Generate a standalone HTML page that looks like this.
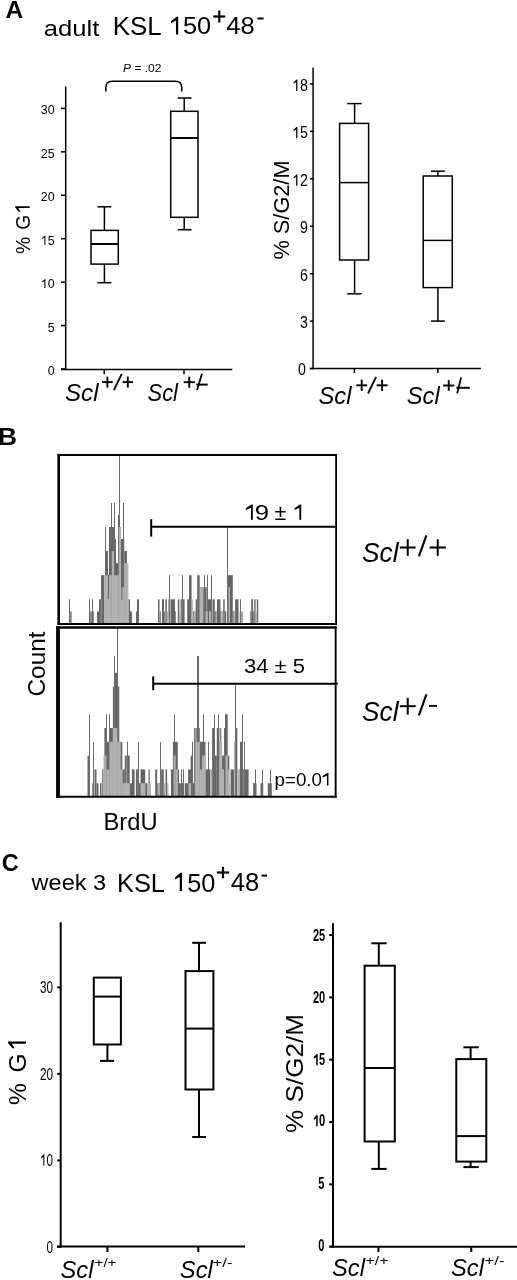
<!DOCTYPE html>
<html><head><meta charset="utf-8"><title>Figure</title>
<style>
html,body{margin:0;padding:0;background:#fff;}
body{width:517px;height:1280px;overflow:hidden;}
svg{display:block;filter:grayscale(1);}
text{font-family:"Liberation Sans", sans-serif;fill:#000;}
</style></head>
<body>
<svg width="517" height="1280" viewBox="0 0 517 1280">
<rect width="517" height="1280" fill="#fff"/>
<text x="5.5" y="17.7" font-size="24.5" font-weight="bold" font-style="normal" text-anchor="start" >A</text>
<text x="43.8" y="35.8" font-size="22.5" font-weight="normal" font-style="normal" text-anchor="start" textLength="55.5" lengthAdjust="spacingAndGlyphs" >adult</text>
<text x="112.8" y="34.8" font-size="25" font-weight="normal" font-style="normal" text-anchor="start" textLength="49" lengthAdjust="spacingAndGlyphs" >KSL</text>
<path d="M0.373,0 L0.285,0 L0.285,0.560 L0.085,0.452 L0.085,0.537 L0.312,0.716 L0.373,0.716 Z" fill="#000" transform=" translate(168.85,34.60) scale(25.000,-25.000)"/>
<text x="183" y="34.3" font-size="24.5" font-weight="normal" font-style="normal" text-anchor="start" textLength="28.2" lengthAdjust="spacingAndGlyphs" >50</text>
<line x1="213.3" y1="16.5" x2="225.3" y2="16.5" stroke="#000" stroke-width="2.2" stroke-linecap="butt"/>
<line x1="219.3" y1="10.5" x2="219.3" y2="22.5" stroke="#000" stroke-width="2.2" stroke-linecap="butt"/>
<text x="226.3" y="34.3" font-size="24.5" font-weight="normal" font-style="normal" text-anchor="start" textLength="28.5" lengthAdjust="spacingAndGlyphs" >48</text>
<rect x="257.5" y="17.5" width="6.1" height="2" fill="#000"/>
<line x1="65.7" y1="86.4" x2="65.7" y2="370.25" stroke="#000" stroke-width="1.5" stroke-linecap="butt"/>
<line x1="61" y1="369.5" x2="232.3" y2="369.5" stroke="#000" stroke-width="1.5" stroke-linecap="butt"/>
<line x1="61" y1="108.4" x2="65.7" y2="108.4" stroke="#000" stroke-width="1.5" stroke-linecap="butt"/>
<text x="40.8112" y="114.4" font-size="12.4" font-weight="normal" font-style="normal" text-anchor="start" >3</text>
<text x="47.705600000000004" y="114.4" font-size="12.4" font-weight="normal" font-style="normal" text-anchor="start" >0</text>
<line x1="61" y1="151.83" x2="65.7" y2="151.83" stroke="#000" stroke-width="1.5" stroke-linecap="butt"/>
<text x="40.8112" y="157.83" font-size="12.4" font-weight="normal" font-style="normal" text-anchor="start" >2</text>
<text x="47.705600000000004" y="157.83" font-size="12.4" font-weight="normal" font-style="normal" text-anchor="start" >5</text>
<line x1="61" y1="195.26" x2="65.7" y2="195.26" stroke="#000" stroke-width="1.5" stroke-linecap="butt"/>
<text x="40.8112" y="201.26" font-size="12.4" font-weight="normal" font-style="normal" text-anchor="start" >2</text>
<text x="47.705600000000004" y="201.26" font-size="12.4" font-weight="normal" font-style="normal" text-anchor="start" >0</text>
<line x1="61" y1="238.69" x2="65.7" y2="238.69" stroke="#000" stroke-width="1.5" stroke-linecap="butt"/>
<path d="M0.373,0 L0.285,0 L0.285,0.560 L0.105,0.452 L0.105,0.537 L0.312,0.716 L0.373,0.716 Z" fill="#000" transform=" translate(40.81,244.69) scale(12.400,-12.400)"/>
<text x="47.705600000000004" y="244.69" font-size="12.4" font-weight="normal" font-style="normal" text-anchor="start" >5</text>
<line x1="61" y1="282.12" x2="65.7" y2="282.12" stroke="#000" stroke-width="1.5" stroke-linecap="butt"/>
<path d="M0.373,0 L0.285,0 L0.285,0.560 L0.105,0.452 L0.105,0.537 L0.312,0.716 L0.373,0.716 Z" fill="#000" transform=" translate(40.81,288.12) scale(12.400,-12.400)"/>
<text x="47.705600000000004" y="288.12" font-size="12.4" font-weight="normal" font-style="normal" text-anchor="start" >0</text>
<line x1="61" y1="325.55" x2="65.7" y2="325.55" stroke="#000" stroke-width="1.5" stroke-linecap="butt"/>
<text x="47.705600000000004" y="331.55" font-size="12.4" font-weight="normal" font-style="normal" text-anchor="start" >5</text>
<line x1="61" y1="368.98" x2="65.7" y2="368.98" stroke="#000" stroke-width="1.5" stroke-linecap="butt"/>
<text x="47.705600000000004" y="374.98" font-size="12.4" font-weight="normal" font-style="normal" text-anchor="start" >0</text>
<line x1="104.2" y1="369.5" x2="104.2" y2="374.2" stroke="#000" stroke-width="1.5" stroke-linecap="butt"/>
<line x1="184" y1="369.5" x2="184" y2="374.2" stroke="#000" stroke-width="1.5" stroke-linecap="butt"/>
<line x1="104.4" y1="206.8" x2="104.4" y2="230.4" stroke="#000" stroke-width="1.5" stroke-linecap="butt"/>
<line x1="97.4" y1="206.8" x2="111.3" y2="206.8" stroke="#000" stroke-width="1.5" stroke-linecap="butt"/>
<line x1="104.4" y1="264.1" x2="104.4" y2="282.7" stroke="#000" stroke-width="1.5" stroke-linecap="butt"/>
<line x1="97.4" y1="282.7" x2="111.3" y2="282.7" stroke="#000" stroke-width="1.5" stroke-linecap="butt"/>
<rect x="91" y="230.4" width="27.299999999999997" height="33.70000000000002" fill="none" stroke="#000" stroke-width="1.5"/>
<line x1="91" y1="244" x2="118.3" y2="244" stroke="#000" stroke-width="2" stroke-linecap="butt"/>
<line x1="184.2" y1="98" x2="184.2" y2="111.3" stroke="#000" stroke-width="1.5" stroke-linecap="butt"/>
<line x1="177.7" y1="98" x2="191.5" y2="98" stroke="#000" stroke-width="1.5" stroke-linecap="butt"/>
<line x1="184.2" y1="217.3" x2="184.2" y2="229.7" stroke="#000" stroke-width="1.5" stroke-linecap="butt"/>
<line x1="177.7" y1="229.7" x2="191.5" y2="229.7" stroke="#000" stroke-width="1.5" stroke-linecap="butt"/>
<rect x="170.7" y="111.3" width="27.30000000000001" height="106.00000000000001" fill="none" stroke="#000" stroke-width="1.5"/>
<line x1="170.7" y1="138" x2="198" y2="138" stroke="#000" stroke-width="2" stroke-linecap="butt"/>
<path d="M105.8,91.6 L105.8,87.5 Q105.8,81.3 112,81.3 L175.5,81.3 Q181.7,81.3 181.7,87.5 L181.7,91.6" fill="none" stroke="#000" stroke-width="1.6"/>
<text x="123" y="72" font-size="11.5" font-weight="normal" font-style="normal" text-anchor="start" textLength="38.5" lengthAdjust="spacingAndGlyphs" ><tspan font-style="italic">P</tspan> = .02</text>
<text transform="translate(29.8,253.9) rotate(-90) scale(0.92,1)" font-size="21" font-weight="normal" font-style="normal" text-anchor="start" >%</text>
<text transform="translate(29.8,229.7) rotate(-90) scale(0.92,1)" font-size="21" font-weight="normal" font-style="normal" text-anchor="start" >G</text>
<path d="M0.373,0 L0.285,0 L0.285,0.560 L0.105,0.452 L0.105,0.537 L0.312,0.716 L0.373,0.716 Z" fill="#000" transform="translate(29.7,213.4) rotate(-90) translate(-0.50,0.00) scale(20.300,-20.300)"/>
<text x="65" y="400.7" font-size="23" font-weight="normal" font-style="italic" text-anchor="start" textLength="33.5" lengthAdjust="spacingAndGlyphs" >Scl</text>
<line x1="102.05000000000001" y1="382.1" x2="112.75" y2="382.1" stroke="#000" stroke-width="1.9" stroke-linecap="butt"/>
<line x1="107.4" y1="376.6" x2="107.4" y2="387.6" stroke="#000" stroke-width="1.9" stroke-linecap="butt"/>
<line x1="113.9" y1="390" x2="121.8" y2="373.8" stroke="#000" stroke-width="1.8" stroke-linecap="butt"/>
<line x1="122.64999999999999" y1="382.1" x2="132.95" y2="382.1" stroke="#000" stroke-width="1.9" stroke-linecap="butt"/>
<line x1="127.8" y1="376.6" x2="127.8" y2="387.6" stroke="#000" stroke-width="1.9" stroke-linecap="butt"/>
<text x="147.5" y="400.8" font-size="23" font-weight="normal" font-style="italic" text-anchor="start" textLength="30.5" lengthAdjust="spacingAndGlyphs" >Scl</text>
<line x1="183.7" y1="382.2" x2="194.8" y2="382.2" stroke="#000" stroke-width="1.9" stroke-linecap="butt"/>
<line x1="189.25" y1="376.65" x2="189.25" y2="387.75" stroke="#000" stroke-width="1.9" stroke-linecap="butt"/>
<line x1="197" y1="390" x2="202" y2="373.8" stroke="#000" stroke-width="1.8" stroke-linecap="butt"/>
<line x1="196.3" y1="384.6" x2="207.7" y2="384.6" stroke="#000" stroke-width="2" stroke-linecap="butt"/>
<line x1="313.1" y1="67.4" x2="313.1" y2="369.35" stroke="#000" stroke-width="1.5" stroke-linecap="butt"/>
<line x1="309.7" y1="368.6" x2="480.9" y2="368.6" stroke="#000" stroke-width="1.5" stroke-linecap="butt"/>
<line x1="310" y1="84.0" x2="313.1" y2="84.0" stroke="#000" stroke-width="1.5" stroke-linecap="butt"/>
<path d="M0.373,0 L0.285,0 L0.285,0.560 L0.105,0.452 L0.105,0.537 L0.312,0.716 L0.373,0.716 Z" fill="#000" transform=" translate(292.09,90.90) scale(14.220,-15.800)"/>
<text transform="translate(299.99368,90.9) scale(0.9,1)" font-size="15.8" font-weight="normal" font-style="normal" text-anchor="start" >8</text>
<line x1="310" y1="131.43" x2="313.1" y2="131.43" stroke="#000" stroke-width="1.5" stroke-linecap="butt"/>
<path d="M0.373,0 L0.285,0 L0.285,0.560 L0.105,0.452 L0.105,0.537 L0.312,0.716 L0.373,0.716 Z" fill="#000" transform=" translate(292.09,138.33) scale(14.220,-15.800)"/>
<text transform="translate(299.99368,138.33) scale(0.9,1)" font-size="15.8" font-weight="normal" font-style="normal" text-anchor="start" >5</text>
<line x1="310" y1="178.86" x2="313.1" y2="178.86" stroke="#000" stroke-width="1.5" stroke-linecap="butt"/>
<path d="M0.373,0 L0.285,0 L0.285,0.560 L0.105,0.452 L0.105,0.537 L0.312,0.716 L0.373,0.716 Z" fill="#000" transform=" translate(292.09,185.76) scale(14.220,-15.800)"/>
<text transform="translate(299.99368,185.76000000000002) scale(0.9,1)" font-size="15.8" font-weight="normal" font-style="normal" text-anchor="start" >2</text>
<line x1="310" y1="226.29" x2="313.1" y2="226.29" stroke="#000" stroke-width="1.5" stroke-linecap="butt"/>
<text transform="translate(299.99368,233.19) scale(0.9,1)" font-size="15.8" font-weight="normal" font-style="normal" text-anchor="start" >9</text>
<line x1="310" y1="273.72" x2="313.1" y2="273.72" stroke="#000" stroke-width="1.5" stroke-linecap="butt"/>
<text transform="translate(299.99368,280.62) scale(0.9,1)" font-size="15.8" font-weight="normal" font-style="normal" text-anchor="start" >6</text>
<line x1="310" y1="321.15" x2="313.1" y2="321.15" stroke="#000" stroke-width="1.5" stroke-linecap="butt"/>
<text transform="translate(299.99368,328.04999999999995) scale(0.9,1)" font-size="15.8" font-weight="normal" font-style="normal" text-anchor="start" >3</text>
<line x1="310" y1="368.58" x2="313.1" y2="368.58" stroke="#000" stroke-width="1.5" stroke-linecap="butt"/>
<text transform="translate(297.99368,375.47999999999996) scale(0.9,1)" font-size="15.8" font-weight="normal" font-style="normal" text-anchor="start" >0</text>
<line x1="354.4" y1="368.6" x2="354.4" y2="373" stroke="#000" stroke-width="1.5" stroke-linecap="butt"/>
<line x1="437.9" y1="368.6" x2="437.9" y2="373" stroke="#000" stroke-width="1.5" stroke-linecap="butt"/>
<line x1="354.6" y1="103.6" x2="354.6" y2="123.4" stroke="#000" stroke-width="1.5" stroke-linecap="butt"/>
<line x1="347.2" y1="103.6" x2="361.6" y2="103.6" stroke="#000" stroke-width="1.5" stroke-linecap="butt"/>
<line x1="354.6" y1="260" x2="354.6" y2="293.8" stroke="#000" stroke-width="1.5" stroke-linecap="butt"/>
<line x1="347.2" y1="293.8" x2="361.6" y2="293.8" stroke="#000" stroke-width="1.5" stroke-linecap="butt"/>
<rect x="339.6" y="123.4" width="29.0" height="136.6" fill="none" stroke="#000" stroke-width="1.5"/>
<line x1="339.6" y1="182.6" x2="368.6" y2="182.6" stroke="#000" stroke-width="1.5" stroke-linecap="butt"/>
<line x1="437.9" y1="171.2" x2="437.9" y2="176" stroke="#000" stroke-width="1.5" stroke-linecap="butt"/>
<line x1="431" y1="171.2" x2="444.9" y2="171.2" stroke="#000" stroke-width="1.5" stroke-linecap="butt"/>
<line x1="437.9" y1="287.6" x2="437.9" y2="321.1" stroke="#000" stroke-width="1.5" stroke-linecap="butt"/>
<line x1="431" y1="321.1" x2="444.9" y2="321.1" stroke="#000" stroke-width="1.5" stroke-linecap="butt"/>
<rect x="423.2" y="176" width="29.100000000000023" height="111.60000000000002" fill="none" stroke="#000" stroke-width="1.5"/>
<line x1="423.2" y1="240.4" x2="452.3" y2="240.4" stroke="#000" stroke-width="1.5" stroke-linecap="butt"/>
<text transform="translate(288.7,259.5) rotate(-90)" font-size="21.5" font-weight="normal" font-style="normal" text-anchor="start" textLength="99" lengthAdjust="spacingAndGlyphs" >% S/G2/M</text>
<text x="318.5" y="403.9" font-size="23" font-weight="normal" font-style="italic" text-anchor="start" textLength="33" lengthAdjust="spacingAndGlyphs" >Scl</text>
<line x1="356.3" y1="385.3" x2="367.09999999999997" y2="385.3" stroke="#000" stroke-width="1.9" stroke-linecap="butt"/>
<line x1="361.7" y1="379.7" x2="361.7" y2="390.90000000000003" stroke="#000" stroke-width="1.9" stroke-linecap="butt"/>
<line x1="368" y1="393.5" x2="376.1" y2="377" stroke="#000" stroke-width="1.8" stroke-linecap="butt"/>
<line x1="376.65000000000003" y1="385.3" x2="387.55" y2="385.3" stroke="#000" stroke-width="1.9" stroke-linecap="butt"/>
<line x1="382.1" y1="379.7" x2="382.1" y2="390.90000000000003" stroke="#000" stroke-width="1.9" stroke-linecap="butt"/>
<text x="406.7" y="404.4" font-size="23" font-weight="normal" font-style="italic" text-anchor="start" textLength="33" lengthAdjust="spacingAndGlyphs" >Scl</text>
<line x1="443.09999999999997" y1="385.5" x2="454.3" y2="385.5" stroke="#000" stroke-width="1.9" stroke-linecap="butt"/>
<line x1="448.7" y1="380.15" x2="448.7" y2="390.85" stroke="#000" stroke-width="1.9" stroke-linecap="butt"/>
<line x1="457.2" y1="393.4" x2="461.1" y2="377.5" stroke="#000" stroke-width="1.8" stroke-linecap="butt"/>
<line x1="456.4" y1="387.8" x2="469.8" y2="387.8" stroke="#000" stroke-width="2" stroke-linecap="butt"/>
<text transform="translate(-2.3,445.4) scale(1.1,1)" font-size="24.3" font-weight="bold" font-style="normal" text-anchor="start" >B</text>
<text transform="translate(44.8,696.5) rotate(-90)" font-size="24.5" font-weight="normal" font-style="normal" text-anchor="start" textLength="65" lengthAdjust="spacingAndGlyphs" >Count</text>
<text x="103.5" y="830.2" font-size="24" font-weight="normal" font-style="normal" text-anchor="start" textLength="54" lengthAdjust="spacingAndGlyphs" >BrdU</text>
<rect x="69" y="599.3" width="1.0" height="24.3" fill="#666"/>
<rect x="89" y="599.3" width="1.0" height="24.3" fill="#666"/>
<rect x="92" y="599.3" width="1.0" height="24.3" fill="#666"/>
<rect x="97" y="611.4" width="2.0" height="12.2" fill="#666"/>
<rect x="99" y="599.3" width="2.0" height="24.3" fill="#666"/>
<rect x="101" y="575.2" width="3.5" height="48.4" fill="#666"/>
<rect x="105.6" y="551.1" width="2.4" height="72.5" fill="#666"/>
<rect x="109" y="527.0" width="2.0" height="96.6" fill="#666"/>
<rect x="112" y="527.0" width="2.0" height="96.6" fill="#666"/>
<rect x="115" y="539.0" width="1.0" height="84.6" fill="#666"/>
<rect x="116" y="563.1" width="2.0" height="60.5" fill="#666"/>
<rect x="118" y="514.9" width="1.0" height="108.7" fill="#666"/>
<rect x="120" y="527.0" width="1.0" height="96.6" fill="#666"/>
<rect x="121" y="539.0" width="3.3" height="84.6" fill="#666"/>
<rect x="124.3" y="551.1" width="2.7" height="72.5" fill="#666"/>
<rect x="128.4" y="599.3" width="1.6" height="24.3" fill="#666"/>
<rect x="130" y="611.4" width="2.0" height="12.2" fill="#666"/>
<rect x="137" y="599.3" width="2.0" height="24.3" fill="#666"/>
<rect x="158" y="599.3" width="1.5" height="24.3" fill="#666"/>
<rect x="162" y="599.3" width="2.0" height="24.3" fill="#666"/>
<rect x="165.3" y="599.3" width="1.5" height="24.3" fill="#666"/>
<rect x="168.5" y="599.3" width="1.0" height="24.3" fill="#666"/>
<rect x="170.5" y="599.3" width="4.5" height="24.3" fill="#666"/>
<rect x="177.8" y="599.3" width="1.5" height="24.3" fill="#666"/>
<rect x="180.5" y="599.3" width="1.3" height="24.3" fill="#666"/>
<rect x="183" y="599.3" width="1.6" height="24.3" fill="#666"/>
<rect x="187.2" y="599.3" width="1.8" height="24.3" fill="#666"/>
<rect x="189" y="575.2" width="2.6" height="48.4" fill="#666"/>
<rect x="192.8" y="611.4" width="2.9" height="12.2" fill="#666"/>
<rect x="195.7" y="599.3" width="1.7" height="24.3" fill="#666"/>
<rect x="197.2" y="575.2" width="2.5" height="48.4" fill="#666"/>
<rect x="199.7" y="587.2" width="4.1" height="36.4" fill="#666"/>
<rect x="205" y="587.2" width="1.7" height="36.4" fill="#666"/>
<rect x="207.8" y="599.3" width="3.2" height="24.3" fill="#666"/>
<rect x="212.5" y="599.3" width="2.3" height="24.3" fill="#666"/>
<rect x="214.8" y="611.4" width="2.2" height="12.2" fill="#666"/>
<rect x="217" y="599.3" width="3.4" height="24.3" fill="#666"/>
<rect x="220.4" y="611.4" width="2.8" height="12.2" fill="#666"/>
<rect x="223.2" y="599.3" width="1.5" height="24.3" fill="#666"/>
<rect x="224.7" y="611.4" width="1.5" height="12.2" fill="#666"/>
<rect x="227.6" y="575.2" width="5.2" height="48.4" fill="#666"/>
<rect x="232.8" y="611.4" width="2.3" height="12.2" fill="#666"/>
<rect x="235.1" y="599.3" width="3.4" height="24.3" fill="#666"/>
<rect x="251.2" y="599.3" width="1.8" height="24.3" fill="#666"/>
<rect x="254.1" y="599.3" width="1.5" height="24.3" fill="#666"/>
<rect x="256.8" y="599.3" width="1.4" height="24.3" fill="#666"/>
<rect x="105" y="527.0" width="1" height="96.6" fill="#6c6c6c"/>
<rect x="111" y="502.9" width="1" height="120.7" fill="#6c6c6c"/>
<rect x="114" y="502.9" width="1" height="120.7" fill="#6c6c6c"/>
<rect x="119" y="455.0" width="1" height="168.6" fill="#6c6c6c"/>
<rect x="123" y="502.9" width="1" height="120.7" fill="#6c6c6c"/>
<rect x="136" y="611.4" width="1" height="12.2" fill="#6c6c6c"/>
<rect x="169" y="575.2" width="1" height="48.4" fill="#6c6c6c"/>
<rect x="182" y="575.2" width="1" height="48.4" fill="#6c6c6c"/>
<rect x="204" y="575.2" width="1" height="48.4" fill="#6c6c6c"/>
<rect x="207" y="575.2" width="1" height="48.4" fill="#6c6c6c"/>
<rect x="211" y="575.2" width="1" height="48.4" fill="#6c6c6c"/>
<rect x="227" y="527.5" width="1" height="96.1" fill="#6c6c6c"/>
<rect x="240" y="599.3" width="1" height="24.3" fill="#6c6c6c"/>
<rect x="70" y="611.4" width="1.8" height="12.2" fill="#8c8c8c"/>
<rect x="90" y="611.4" width="2.0" height="12.2" fill="#8c8c8c"/>
<rect x="93" y="611.4" width="1.0" height="12.2" fill="#8c8c8c"/>
<rect x="100.8" y="599.3" width="0.7" height="24.3" fill="#b1b1b1"/>
<rect x="104.5" y="575.2" width="7.3" height="48.4" fill="#b1b1b1"/>
<rect x="111.8" y="551.1" width="2.2" height="72.5" fill="#b1b1b1"/>
<rect x="114" y="575.2" width="1.0" height="48.4" fill="#b1b1b1"/>
<rect x="115" y="575.2" width="3.8" height="48.4" fill="#b1b1b1"/>
<rect x="118.8" y="527.0" width="2.2" height="96.6" fill="#b1b1b1"/>
<rect x="121" y="587.2" width="3.3" height="36.4" fill="#b1b1b1"/>
<rect x="124.3" y="563.1" width="4.1" height="60.5" fill="#b1b1b1"/>
<rect x="159.5" y="611.4" width="1.5" height="12.2" fill="#8c8c8c"/>
<rect x="164" y="611.4" width="1.3" height="12.2" fill="#8c8c8c"/>
<rect x="166.8" y="611.4" width="1.7" height="12.2" fill="#b1b1b1"/>
<rect x="175" y="611.4" width="1.0" height="12.2" fill="#8c8c8c"/>
<rect x="179.3" y="611.4" width="1.2" height="12.2" fill="#b1b1b1"/>
<rect x="191.6" y="599.3" width="1.2" height="24.3" fill="#b1b1b1"/>
<rect x="193.5" y="611.4" width="2.2" height="12.2" fill="#b1b1b1"/>
<rect x="199.7" y="587.2" width="3.3" height="36.4" fill="#b1b1b1"/>
<rect x="205.5" y="611.4" width="2.3" height="12.2" fill="#b1b1b1"/>
<rect x="209" y="611.4" width="2.0" height="12.2" fill="#b1b1b1"/>
<rect x="215.5" y="611.4" width="1.5" height="12.2" fill="#b1b1b1"/>
<rect x="221" y="611.4" width="2.2" height="12.2" fill="#b1b1b1"/>
<rect x="228.5" y="587.2" width="1.5" height="36.4" fill="#b1b1b1"/>
<rect x="233.3" y="611.4" width="1.8" height="12.2" fill="#b1b1b1"/>
<rect x="238.5" y="611.4" width="1.1" height="12.2" fill="#b1b1b1"/>
<rect x="241.4" y="611.4" width="1.5" height="12.2" fill="#8c8c8c"/>
<rect x="250" y="611.4" width="1.2" height="12.2" fill="#8c8c8c"/>
<rect x="253" y="611.4" width="1.1" height="12.2" fill="#8c8c8c"/>
<rect x="255.6" y="611.4" width="1.2" height="12.2" fill="#b1b1b1"/>
<rect x="108" y="575.0" width="1.0" height="24.0" fill="#666"/>
<rect x="121.4" y="587.0" width="1.0" height="12.6" fill="#666"/>
<rect x="87.5" y="755.6" width="1.7" height="40.6" fill="#666"/>
<rect x="92.3" y="783.2" width="0.9" height="13.0" fill="#666"/>
<rect x="94.5" y="769.4" width="2.0" height="26.8" fill="#666"/>
<rect x="96.5" y="783.2" width="2.0" height="13.0" fill="#666"/>
<rect x="100" y="783.2" width="1.0" height="13.0" fill="#666"/>
<rect x="102" y="769.4" width="1.5" height="26.8" fill="#666"/>
<rect x="104.4" y="728.0" width="2.0" height="68.2" fill="#666"/>
<rect x="106.4" y="741.8" width="2.6" height="54.4" fill="#666"/>
<rect x="109.4" y="728.0" width="3.5" height="68.2" fill="#666"/>
<rect x="112.9" y="686.6" width="1.5" height="109.6" fill="#666"/>
<rect x="114.4" y="672.8" width="2.9" height="123.4" fill="#666"/>
<rect x="117.3" y="686.6" width="2.0" height="109.6" fill="#666"/>
<rect x="120.3" y="741.8" width="2.0" height="54.4" fill="#666"/>
<rect x="122.3" y="769.4" width="2.5" height="26.8" fill="#666"/>
<rect x="124.8" y="755.6" width="1.9" height="40.6" fill="#666"/>
<rect x="127.7" y="755.6" width="2.0" height="40.6" fill="#666"/>
<rect x="129.7" y="783.2" width="2.3" height="13.0" fill="#666"/>
<rect x="131.9" y="769.4" width="2.7" height="26.8" fill="#666"/>
<rect x="135.9" y="769.4" width="2.0" height="26.8" fill="#666"/>
<rect x="139" y="783.2" width="1.5" height="13.0" fill="#666"/>
<rect x="140.5" y="769.4" width="4.7" height="26.8" fill="#666"/>
<rect x="145.2" y="783.2" width="1.8" height="13.0" fill="#666"/>
<rect x="148.5" y="769.4" width="1.3" height="26.8" fill="#666"/>
<rect x="155.2" y="769.4" width="1.9" height="26.8" fill="#666"/>
<rect x="157.1" y="783.2" width="2.7" height="13.0" fill="#666"/>
<rect x="161.1" y="769.4" width="2.7" height="26.8" fill="#666"/>
<rect x="165.5" y="769.4" width="1.6" height="26.8" fill="#666"/>
<rect x="171" y="769.4" width="2.3" height="26.8" fill="#666"/>
<rect x="172.9" y="741.8" width="4.9" height="54.4" fill="#666"/>
<rect x="177.8" y="769.4" width="1.2" height="26.8" fill="#666"/>
<rect x="179" y="783.2" width="1.9" height="13.0" fill="#666"/>
<rect x="182" y="783.2" width="1.2" height="13.0" fill="#666"/>
<rect x="184.7" y="783.2" width="3.8" height="13.0" fill="#666"/>
<rect x="188.1" y="769.4" width="3.0" height="26.8" fill="#666"/>
<rect x="190.7" y="755.6" width="1.5" height="40.6" fill="#666"/>
<rect x="193" y="783.2" width="1.1" height="13.0" fill="#666"/>
<rect x="194.1" y="728.0" width="1.6" height="68.2" fill="#666"/>
<rect x="196" y="728.0" width="3.8" height="68.2" fill="#666"/>
<rect x="199.8" y="741.8" width="5.7" height="54.4" fill="#666"/>
<rect x="205.5" y="769.4" width="4.7" height="26.8" fill="#666"/>
<rect x="212.1" y="728.0" width="2.7" height="68.2" fill="#666"/>
<rect x="214.8" y="755.6" width="2.0" height="40.6" fill="#666"/>
<rect x="216.8" y="728.0" width="2.6" height="68.2" fill="#666"/>
<rect x="219.4" y="741.8" width="0.8" height="54.4" fill="#666"/>
<rect x="220.2" y="728.0" width="1.1" height="68.2" fill="#666"/>
<rect x="221.3" y="755.6" width="2.7" height="40.6" fill="#666"/>
<rect x="225" y="714.2" width="2.7" height="82.0" fill="#666"/>
<rect x="227.7" y="755.6" width="1.6" height="40.6" fill="#666"/>
<rect x="230.6" y="769.4" width="3.4" height="26.8" fill="#666"/>
<rect x="236" y="728.0" width="1.3" height="68.2" fill="#666"/>
<rect x="240" y="741.8" width="2.6" height="54.4" fill="#666"/>
<rect x="243.2" y="769.4" width="5.4" height="26.8" fill="#666"/>
<rect x="253.2" y="783.2" width="3.3" height="13.0" fill="#666"/>
<rect x="260.5" y="783.2" width="2.7" height="13.0" fill="#666"/>
<rect x="267.8" y="783.2" width="4.0" height="13.0" fill="#666"/>
<rect x="89" y="714.2" width="1" height="82.0" fill="#6c6c6c"/>
<rect x="93" y="741.8" width="1" height="54.4" fill="#6c6c6c"/>
<rect x="106" y="714.2" width="1" height="82.0" fill="#6c6c6c"/>
<rect x="109" y="714.2" width="1" height="82.0" fill="#6c6c6c"/>
<rect x="114" y="656.0" width="1" height="140.2" fill="#6c6c6c"/>
<rect x="117" y="628.0" width="1" height="168.2" fill="#6c6c6c"/>
<rect x="127" y="741.8" width="1" height="54.4" fill="#6c6c6c"/>
<rect x="138" y="741.8" width="1" height="54.4" fill="#6c6c6c"/>
<rect x="160" y="741.8" width="1" height="54.4" fill="#6c6c6c"/>
<rect x="174" y="714.2" width="1" height="82.0" fill="#6c6c6c"/>
<rect x="181" y="769.4" width="1" height="26.8" fill="#6c6c6c"/>
<rect x="183" y="769.4" width="1" height="26.8" fill="#6c6c6c"/>
<rect x="192" y="741.8" width="1" height="54.4" fill="#6c6c6c"/>
<rect x="197" y="656.0" width="2" height="140.2" fill="#6c6c6c"/>
<rect x="203" y="714.2" width="1" height="82.0" fill="#6c6c6c"/>
<rect x="208" y="741.8" width="1" height="54.4" fill="#6c6c6c"/>
<rect x="214" y="714.2" width="1" height="82.0" fill="#6c6c6c"/>
<rect x="218" y="714.2" width="1" height="82.0" fill="#6c6c6c"/>
<rect x="224" y="728.0" width="1" height="68.2" fill="#6c6c6c"/>
<rect x="235" y="684.5" width="1" height="111.7" fill="#6c6c6c"/>
<rect x="242" y="714.2" width="1" height="82.0" fill="#6c6c6c"/>
<rect x="244" y="741.8" width="1" height="54.4" fill="#6c6c6c"/>
<rect x="255" y="769.4" width="1" height="26.8" fill="#6c6c6c"/>
<rect x="262" y="769.4" width="1" height="26.8" fill="#6c6c6c"/>
<rect x="270" y="769.4" width="1" height="26.8" fill="#6c6c6c"/>
<rect x="101" y="783.2" width="1.0" height="13.0" fill="#b1b1b1"/>
<rect x="102.6" y="769.4" width="0.9" height="26.8" fill="#b1b1b1"/>
<rect x="103.5" y="755.6" width="0.9" height="40.6" fill="#b1b1b1"/>
<rect x="104.4" y="755.6" width="2.0" height="40.6" fill="#b1b1b1"/>
<rect x="106.4" y="769.4" width="3.0" height="26.8" fill="#b1b1b1"/>
<rect x="109.4" y="741.8" width="3.5" height="54.4" fill="#b1b1b1"/>
<rect x="112.9" y="728.0" width="4.4" height="68.2" fill="#b1b1b1"/>
<rect x="117.3" y="741.8" width="3.0" height="54.4" fill="#b1b1b1"/>
<rect x="120.3" y="769.4" width="2.0" height="26.8" fill="#b1b1b1"/>
<rect x="122.3" y="783.2" width="7.4" height="13.0" fill="#b1b1b1"/>
<rect x="141" y="783.2" width="4.2" height="13.0" fill="#b1b1b1"/>
<rect x="147" y="783.2" width="4.0" height="13.0" fill="#b1b1b1"/>
<rect x="157.6" y="783.2" width="2.2" height="13.0" fill="#b1b1b1"/>
<rect x="163.8" y="783.2" width="1.7" height="13.0" fill="#b1b1b1"/>
<rect x="167.1" y="783.2" width="1.3" height="13.0" fill="#b1b1b1"/>
<rect x="173.7" y="755.6" width="1.9" height="40.6" fill="#b1b1b1"/>
<rect x="175.6" y="769.4" width="2.2" height="26.8" fill="#b1b1b1"/>
<rect x="188.5" y="783.2" width="2.6" height="13.0" fill="#b1b1b1"/>
<rect x="195.3" y="728.0" width="1.1" height="68.2" fill="#b1b1b1"/>
<rect x="196" y="741.8" width="3.8" height="54.4" fill="#b1b1b1"/>
<rect x="199.8" y="769.4" width="2.2" height="26.8" fill="#b1b1b1"/>
<rect x="202" y="755.6" width="3.5" height="40.6" fill="#b1b1b1"/>
<rect x="210.2" y="769.4" width="1.9" height="26.8" fill="#b1b1b1"/>
<rect x="219.2" y="741.8" width="2.9" height="54.4" fill="#b1b1b1"/>
<rect x="221.6" y="769.4" width="2.4" height="26.8" fill="#b1b1b1"/>
<rect x="225.5" y="755.6" width="2.2" height="40.6" fill="#b1b1b1"/>
<rect x="227.7" y="769.4" width="1.6" height="26.8" fill="#b1b1b1"/>
<rect x="229.3" y="783.2" width="1.3" height="13.0" fill="#b1b1b1"/>
<rect x="234" y="741.8" width="1.3" height="54.4" fill="#b1b1b1"/>
<rect x="237.3" y="769.4" width="2.7" height="26.8" fill="#b1b1b1"/>
<line x1="57.4" y1="454.9" x2="337" y2="454.9" stroke="#000" stroke-width="2" stroke-linecap="butt"/>
<line x1="58.7" y1="453.9" x2="58.7" y2="624.9" stroke="#000" stroke-width="2.6" stroke-linecap="butt"/>
<line x1="336.1" y1="453.9" x2="336.1" y2="624.9" stroke="#000" stroke-width="1.8" stroke-linecap="butt"/>
<line x1="57.4" y1="624" x2="337" y2="624" stroke="#000" stroke-width="1.8" stroke-linecap="butt"/>
<line x1="56.1" y1="627.5" x2="336.6" y2="627.5" stroke="#000" stroke-width="2.4" stroke-linecap="butt"/>
<line x1="58" y1="626.3" x2="58" y2="797.75" stroke="#000" stroke-width="3.8" stroke-linecap="butt"/>
<line x1="335.65" y1="626.3" x2="335.65" y2="797.75" stroke="#000" stroke-width="1.9" stroke-linecap="butt"/>
<line x1="56.1" y1="796.75" x2="336.6" y2="796.75" stroke="#000" stroke-width="2" stroke-linecap="butt"/>
<line x1="151.2" y1="526.7" x2="336" y2="526.7" stroke="#000" stroke-width="2" stroke-linecap="butt"/>
<line x1="151.2" y1="519.2" x2="151.2" y2="536.6" stroke="#000" stroke-width="2" stroke-linecap="butt"/>
<line x1="153.2" y1="683.8" x2="337.8" y2="683.8" stroke="#000" stroke-width="2" stroke-linecap="butt"/>
<line x1="153.2" y1="676.4" x2="153.2" y2="690.2" stroke="#000" stroke-width="2" stroke-linecap="butt"/>
<path d="M0.373,0 L0.285,0 L0.285,0.560 L0.045,0.452 L0.045,0.537 L0.312,0.716 L0.373,0.716 Z" fill="#000" transform=" translate(244.80,519.80) scale(21.500,-21.500)"/>
<text transform="translate(254.8,519.8) scale(1.2,1)" font-size="21.5" font-weight="normal" font-style="normal" text-anchor="start" >9</text>
<text x="274.6" y="519.8" font-size="21.5" font-weight="normal" font-style="normal" text-anchor="start" >&#177;</text>
<path d="M0.373,0 L0.285,0 L0.285,0.560 L0.065,0.452 L0.065,0.537 L0.312,0.716 L0.373,0.716 Z" fill="#000" transform=" translate(293.20,519.80) scale(21.500,-21.500)"/>
<text x="244" y="672.8" font-size="20.5" font-weight="normal" font-style="normal" text-anchor="start" textLength="61" lengthAdjust="spacingAndGlyphs" >34 &#177; 5</text>
<text x="274.5" y="785.6" font-size="17.5" font-weight="normal" font-style="normal" text-anchor="start" textLength="47.5" lengthAdjust="spacingAndGlyphs" >p=0.0</text>
<path d="M0.373,0 L0.285,0 L0.285,0.560 L0.03,0.452 L0.03,0.537 L0.312,0.716 L0.373,0.716 Z" fill="#000" transform=" translate(322.00,785.40) scale(17.300,-17.300)"/>
<text x="362" y="562.2" font-size="27.5" font-weight="normal" font-style="italic" text-anchor="start" textLength="36.5" lengthAdjust="spacingAndGlyphs" >Scl</text>
<line x1="399.8" y1="547.5" x2="415.7" y2="547.5" stroke="#000" stroke-width="2" stroke-linecap="butt"/>
<line x1="407.75" y1="539.15" x2="407.75" y2="555.85" stroke="#000" stroke-width="2" stroke-linecap="butt"/>
<line x1="418.9" y1="556.4" x2="426.4" y2="535.4" stroke="#000" stroke-width="2.1" stroke-linecap="butt"/>
<line x1="429.6" y1="547.5" x2="445.9" y2="547.5" stroke="#000" stroke-width="2" stroke-linecap="butt"/>
<line x1="437.75" y1="539.15" x2="437.75" y2="555.85" stroke="#000" stroke-width="2" stroke-linecap="butt"/>
<text x="362" y="720.7" font-size="27.5" font-weight="normal" font-style="italic" text-anchor="start" textLength="36.5" lengthAdjust="spacingAndGlyphs" >Scl</text>
<line x1="399.8" y1="706.2" x2="415.7" y2="706.2" stroke="#000" stroke-width="2" stroke-linecap="butt"/>
<line x1="407.75" y1="697.8000000000001" x2="407.75" y2="714.6" stroke="#000" stroke-width="2" stroke-linecap="butt"/>
<line x1="418.9" y1="715.4" x2="426.4" y2="694.4" stroke="#000" stroke-width="2.1" stroke-linecap="butt"/>
<line x1="429" y1="705.9" x2="437" y2="705.9" stroke="#000" stroke-width="1.9" stroke-linecap="butt"/>
<text x="1.8" y="870.8" font-size="23.5" font-weight="bold" font-style="normal" text-anchor="start" >C</text>
<text x="31.6" y="889.6" font-size="22.5" font-weight="normal" font-style="normal" text-anchor="start" textLength="74.5" lengthAdjust="spacingAndGlyphs" >week 3</text>
<text x="117" y="891.8" font-size="25.5" font-weight="normal" font-style="normal" text-anchor="start" textLength="48" lengthAdjust="spacingAndGlyphs" >KSL</text>
<path d="M0.373,0 L0.285,0 L0.285,0.560 L0.105,0.452 L0.105,0.537 L0.312,0.716 L0.373,0.716 Z" fill="#000" transform=" translate(172.50,891.00) scale(25.500,-25.500)"/>
<text x="187.2" y="891.5" font-size="25" font-weight="normal" font-style="normal" text-anchor="start" textLength="28.2" lengthAdjust="spacingAndGlyphs" >50</text>
<line x1="216.9" y1="872.5" x2="229.1" y2="872.5" stroke="#000" stroke-width="2.2" stroke-linecap="butt"/>
<line x1="223" y1="866.75" x2="223" y2="878.25" stroke="#000" stroke-width="2.2" stroke-linecap="butt"/>
<text x="230.8" y="891.3" font-size="25" font-weight="normal" font-style="normal" text-anchor="start" textLength="28.5" lengthAdjust="spacingAndGlyphs" >48</text>
<rect x="261.6" y="874.6" width="5.4" height="2" fill="#000"/>
<line x1="60.7" y1="922.2" x2="60.7" y2="1247.5" stroke="#000" stroke-width="2.0" stroke-linecap="butt"/>
<line x1="57" y1="1246.5" x2="245" y2="1246.5" stroke="#000" stroke-width="2.0" stroke-linecap="butt"/>
<line x1="57.2" y1="987.4" x2="60.7" y2="987.4" stroke="#000" stroke-width="2.0" stroke-linecap="butt"/>
<text transform="translate(39.949568,993.1999999999999) scale(0.72,1)" font-size="16.3" font-weight="normal" font-style="normal" text-anchor="start" >3</text>
<text transform="translate(46.474784,993.1999999999999) scale(0.72,1)" font-size="16.3" font-weight="normal" font-style="normal" text-anchor="start" >0</text>
<line x1="57.2" y1="1073.9" x2="60.7" y2="1073.9" stroke="#000" stroke-width="2.0" stroke-linecap="butt"/>
<text transform="translate(39.949568,1079.8000000000002) scale(0.72,1)" font-size="16.3" font-weight="normal" font-style="normal" text-anchor="start" >2</text>
<text transform="translate(46.474784,1079.8000000000002) scale(0.72,1)" font-size="16.3" font-weight="normal" font-style="normal" text-anchor="start" >0</text>
<line x1="57.2" y1="1160.4" x2="60.7" y2="1160.4" stroke="#000" stroke-width="2.0" stroke-linecap="butt"/>
<path d="M0.373,0 L0.285,0 L0.285,0.560 L0.105,0.452 L0.105,0.537 L0.312,0.716 L0.373,0.716 Z" fill="#000" transform=" translate(39.95,1165.80) scale(11.736,-16.300)"/>
<text transform="translate(46.474784,1165.8000000000002) scale(0.72,1)" font-size="16.3" font-weight="normal" font-style="normal" text-anchor="start" >0</text>
<line x1="57.2" y1="1246.9" x2="60.7" y2="1246.9" stroke="#000" stroke-width="2.0" stroke-linecap="butt"/>
<text transform="translate(46.474784,1253.4) scale(0.72,1)" font-size="16.3" font-weight="normal" font-style="normal" text-anchor="start" >0</text>
<line x1="107.4" y1="1246.5" x2="107.4" y2="1252" stroke="#000" stroke-width="2.0" stroke-linecap="butt"/>
<line x1="198.3" y1="1246.5" x2="198.3" y2="1252" stroke="#000" stroke-width="2.0" stroke-linecap="butt"/>
<line x1="107.4" y1="1044.5" x2="107.4" y2="1060.9" stroke="#000" stroke-width="2.0" stroke-linecap="butt"/>
<line x1="100" y1="1060.9" x2="114.1" y2="1060.9" stroke="#000" stroke-width="2.0" stroke-linecap="butt"/>
<rect x="93.8" y="977.6" width="27.10000000000001" height="66.89999999999998" fill="none" stroke="#000" stroke-width="2.0"/>
<line x1="93.8" y1="996.6" x2="120.9" y2="996.6" stroke="#000" stroke-width="2.0" stroke-linecap="butt"/>
<line x1="199" y1="942.8" x2="199" y2="971.1" stroke="#000" stroke-width="2.0" stroke-linecap="butt"/>
<line x1="192.2" y1="942.8" x2="206.1" y2="942.8" stroke="#000" stroke-width="2.0" stroke-linecap="butt"/>
<line x1="199" y1="1089.5" x2="199" y2="1137" stroke="#000" stroke-width="2.0" stroke-linecap="butt"/>
<line x1="192.2" y1="1137" x2="206.1" y2="1137" stroke="#000" stroke-width="2.0" stroke-linecap="butt"/>
<rect x="185.5" y="971.1" width="27.900000000000006" height="118.39999999999998" fill="none" stroke="#000" stroke-width="2.0"/>
<line x1="185.5" y1="1028.6" x2="213.4" y2="1028.6" stroke="#000" stroke-width="2.0" stroke-linecap="butt"/>
<text transform="translate(25.9,1105.1) rotate(-90)" font-size="24.5" font-weight="normal" font-style="normal" text-anchor="start" >%</text>
<text transform="translate(25.9,1072.6) rotate(-90)" font-size="24.5" font-weight="normal" font-style="normal" text-anchor="start" >G</text>
<path d="M0.373,0 L0.285,0 L0.285,0.560 L0.105,0.452 L0.105,0.537 L0.312,0.716 L0.373,0.716 Z" fill="#000" transform="translate(25.9,1050.4) rotate(-90) translate(-0.50,0.00) scale(25.000,-25.000)"/>
<text x="60.5" y="1278" font-size="24" font-weight="normal" font-style="italic" text-anchor="start" textLength="33" lengthAdjust="spacingAndGlyphs" >Scl</text>
<text x="94.5" y="1267" font-size="13" font-weight="normal" font-style="normal" text-anchor="start" textLength="22" lengthAdjust="spacingAndGlyphs" >+/+</text>
<text x="179.8" y="1278.4" font-size="24" font-weight="normal" font-style="italic" text-anchor="start" textLength="33" lengthAdjust="spacingAndGlyphs" >Scl</text>
<text x="212.5" y="1267" font-size="13" font-weight="normal" font-style="normal" text-anchor="start" textLength="20" lengthAdjust="spacingAndGlyphs" >+/-</text>
<line x1="333" y1="923.2" x2="333" y2="1247.8" stroke="#000" stroke-width="2.0" stroke-linecap="butt"/>
<line x1="329.7" y1="1246.8" x2="517" y2="1246.8" stroke="#000" stroke-width="2.0" stroke-linecap="butt"/>
<line x1="329.2" y1="935.1" x2="333" y2="935.1" stroke="#000" stroke-width="2.0" stroke-linecap="butt"/>
<text transform="translate(312.90128,940.6) scale(0.7,1)" font-size="15.8" font-weight="bold" font-style="normal" text-anchor="start" >2</text>
<text transform="translate(319.05064,940.6) scale(0.7,1)" font-size="15.8" font-weight="bold" font-style="normal" text-anchor="start" >5</text>
<line x1="329.2" y1="997.4" x2="333" y2="997.4" stroke="#000" stroke-width="2.0" stroke-linecap="butt"/>
<text transform="translate(312.90128,1002.5) scale(0.7,1)" font-size="15.8" font-weight="bold" font-style="normal" text-anchor="start" >2</text>
<text transform="translate(319.05064,1002.5) scale(0.7,1)" font-size="15.8" font-weight="bold" font-style="normal" text-anchor="start" >0</text>
<line x1="329.2" y1="1059.7" x2="333" y2="1059.7" stroke="#000" stroke-width="2.0" stroke-linecap="butt"/>
<path d="M0.437,0 L0.300,0 L0.300,0.505 L0.090,0.405 L0.090,0.530 L0.335,0.716 L0.437,0.716 Z" fill="#000" transform=" translate(312.90,1065.20) scale(11.060,-15.800)"/>
<text transform="translate(319.05064,1065.2) scale(0.7,1)" font-size="15.8" font-weight="bold" font-style="normal" text-anchor="start" >5</text>
<line x1="329.2" y1="1122.0" x2="333" y2="1122.0" stroke="#000" stroke-width="2.0" stroke-linecap="butt"/>
<path d="M0.437,0 L0.300,0 L0.300,0.505 L0.090,0.405 L0.090,0.530 L0.335,0.716 L0.437,0.716 Z" fill="#000" transform=" translate(312.90,1126.30) scale(11.060,-15.800)"/>
<text transform="translate(319.05064,1126.3) scale(0.7,1)" font-size="15.8" font-weight="bold" font-style="normal" text-anchor="start" >0</text>
<line x1="329.2" y1="1184.3" x2="333" y2="1184.3" stroke="#000" stroke-width="2.0" stroke-linecap="butt"/>
<text transform="translate(318.35064,1188.7) scale(0.7,1)" font-size="15.8" font-weight="bold" font-style="normal" text-anchor="start" >5</text>
<line x1="329.2" y1="1246.6" x2="333" y2="1246.6" stroke="#000" stroke-width="2.0" stroke-linecap="butt"/>
<text transform="translate(318.35064,1251.3999999999999) scale(0.7,1)" font-size="15.8" font-weight="bold" font-style="normal" text-anchor="start" >0</text>
<line x1="378.4" y1="1246.8" x2="378.4" y2="1252" stroke="#000" stroke-width="2.0" stroke-linecap="butt"/>
<line x1="471.3" y1="1246.8" x2="471.3" y2="1252" stroke="#000" stroke-width="2.0" stroke-linecap="butt"/>
<line x1="378.8" y1="943.3" x2="378.8" y2="965.7" stroke="#000" stroke-width="2.0" stroke-linecap="butt"/>
<line x1="371.3" y1="943.3" x2="386.7" y2="943.3" stroke="#000" stroke-width="2.0" stroke-linecap="butt"/>
<line x1="378.8" y1="1141.5" x2="378.8" y2="1168.9" stroke="#000" stroke-width="2.0" stroke-linecap="butt"/>
<line x1="371.3" y1="1168.9" x2="386.7" y2="1168.9" stroke="#000" stroke-width="2.0" stroke-linecap="butt"/>
<rect x="364.6" y="965.7" width="30.19999999999999" height="175.79999999999995" fill="none" stroke="#000" stroke-width="2.0"/>
<line x1="364.6" y1="1068" x2="394.8" y2="1068" stroke="#000" stroke-width="2.0" stroke-linecap="butt"/>
<line x1="470.6" y1="1047.3" x2="470.6" y2="1059.1" stroke="#000" stroke-width="2.0" stroke-linecap="butt"/>
<line x1="463.4" y1="1047.3" x2="478.8" y2="1047.3" stroke="#000" stroke-width="2.0" stroke-linecap="butt"/>
<line x1="470.6" y1="1161.6" x2="470.6" y2="1167.1" stroke="#000" stroke-width="2.0" stroke-linecap="butt"/>
<line x1="463.4" y1="1167.1" x2="478.8" y2="1167.1" stroke="#000" stroke-width="2.0" stroke-linecap="butt"/>
<rect x="456.3" y="1059.1" width="30.0" height="102.5" fill="none" stroke="#000" stroke-width="2.0"/>
<line x1="456.3" y1="1136.1" x2="486.3" y2="1136.1" stroke="#000" stroke-width="2.0" stroke-linecap="butt"/>
<text transform="translate(302.5,1133) rotate(-90)" font-size="24" font-weight="normal" font-style="normal" text-anchor="start" textLength="119" lengthAdjust="spacingAndGlyphs" >% S/G2/M</text>
<text x="332" y="1275.6" font-size="23.5" font-weight="normal" font-style="italic" text-anchor="start" textLength="33" lengthAdjust="spacingAndGlyphs" >Scl</text>
<text x="365.5" y="1265" font-size="13" font-weight="normal" font-style="normal" text-anchor="start" textLength="23" lengthAdjust="spacingAndGlyphs" >+/+</text>
<text x="451" y="1275.8" font-size="23.5" font-weight="normal" font-style="italic" text-anchor="start" textLength="33" lengthAdjust="spacingAndGlyphs" >Scl</text>
<text x="484.5" y="1265" font-size="13" font-weight="normal" font-style="normal" text-anchor="start" textLength="20" lengthAdjust="spacingAndGlyphs" >+/-</text>
</svg>
</body></html>
